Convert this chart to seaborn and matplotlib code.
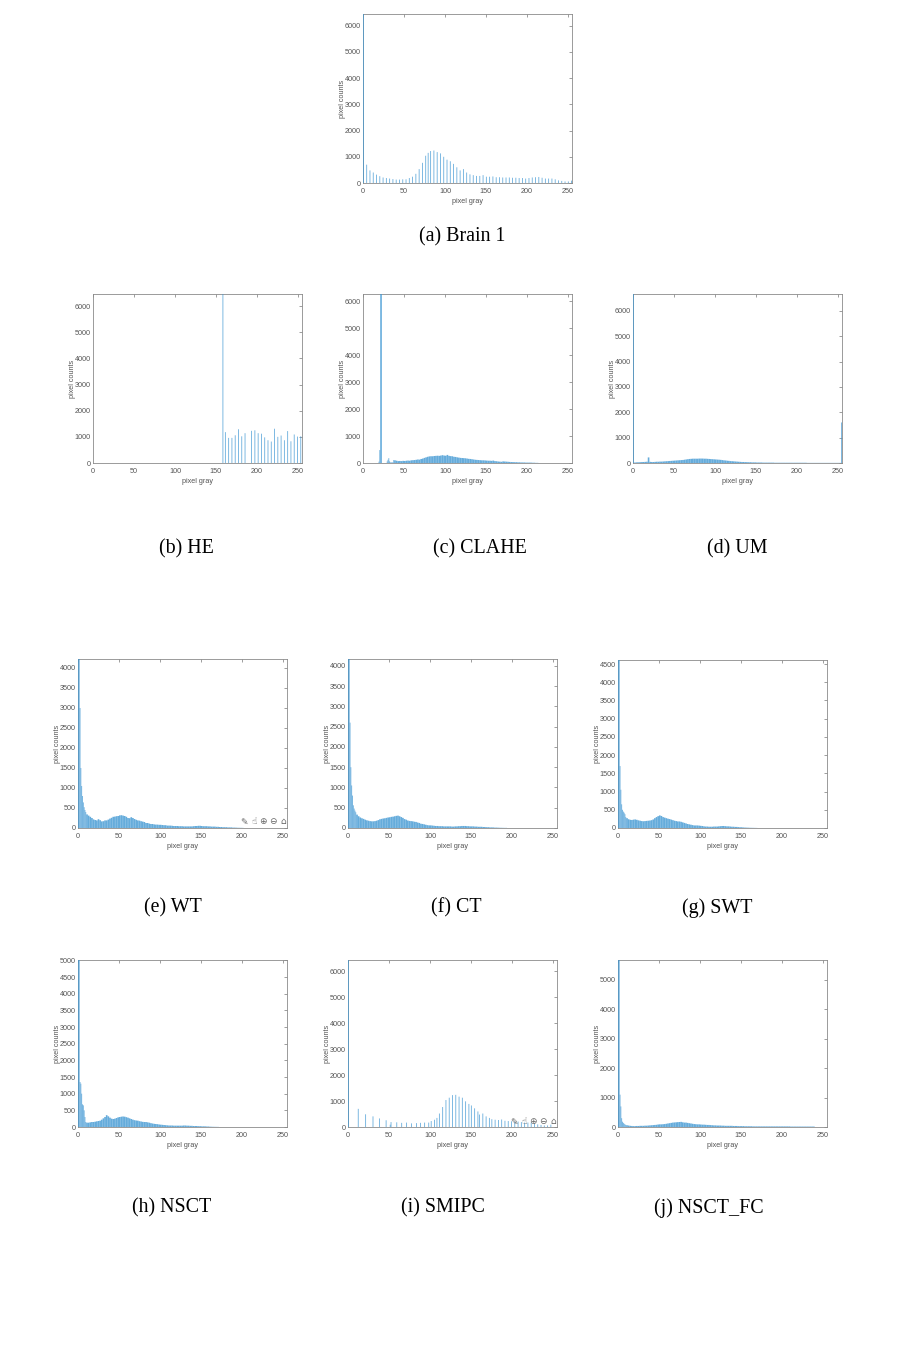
import numpy as np
import pandas as pd
import matplotlib
matplotlib.use("Agg")
import matplotlib.pyplot as plt
import seaborn as sns

sns.set_theme(style="white")
plt.rcParams['font.family'] = ['Liberation Sans', 'DejaVu Sans']

# gray levels (left edge of every bar)
dense_levels = list(range(0, 10)) + list(range(10, 256, 2))
c_levels = [0, 19, 20, 21, 23, 29, 30, 31, 32, 33, 37] + list(range(38, 256, 2))
d_levels = list(range(0, 10)) + list(range(10, 212, 2)) + [212, 254]

a_levels = [0, 4, 8, 12, 16, 20, 24, 28, 32, 36, 40, 44, 48, 52, 56, 60, 64, 68, 72, 76, 79, 82, 86, 90, 94, 98, 102,
            106, 110, 114, 118, 122, 126, 130, 134, 138, 142, 146, 150, 154, 158, 162, 166, 170, 174, 178, 182, 186,
            190, 194, 198, 202, 206, 210, 214, 218, 222, 226, 230, 234, 238, 242, 246, 250, 254]
a_counts = [6450, 700, 480, 400, 320, 260, 210, 190, 170, 150, 130, 130, 140, 140, 190, 240, 350, 530, 770, 1040, 1150,
            1220, 1240, 1180, 1130, 1000, 890, 830, 730, 600, 480, 530, 400, 330, 300, 270, 270, 300, 240, 240, 250,
            220, 220, 210, 210, 210, 200, 200, 190, 190, 170, 190, 210, 220, 230, 200, 170, 170, 170, 140, 100, 80,
            60, 60, 90]

b_levels = [158, 161, 165, 169, 173, 177, 181, 185, 193, 197, 201, 205, 209, 213, 217, 221, 225, 229, 233, 237, 241,
            245, 249, 253]
b_counts = [6500, 1180, 960, 960, 1060, 1290, 1020, 1140, 1230, 1250, 1140, 1120, 980, 870, 820, 1310, 1000, 1050, 870,
            1220, 830, 1090, 1010, 1020]

c_counts = [0, 50, 480, 6300, 0, 60, 120, 180, 60, 20, 110, 100, 85, 70, 75, 70, 80, 75, 85, 90, 85, 100, 105, 110,
            120, 130, 125, 150, 165, 190, 210, 230, 245, 250, 250, 260, 265, 270, 265, 275, 290, 275, 270, 300, 265,
            255, 250, 230, 225, 210, 200, 190, 185, 180, 175, 165, 155, 150, 140, 130, 120, 115, 110, 105, 100, 100,
            95, 90, 85, 85, 80, 90, 70, 65, 55, 50, 45, 60, 55, 50, 45, 40, 35, 35, 30, 30, 25, 25, 20, 20, 20, 15,
            15, 15, 15, 10, 10, 5, 5]

d_counts = [6670, 20, 20, 25, 30, 30, 30, 35, 35, 40, 40, 40, 45, 50, 220, 45, 40, 40, 45, 50, 50, 55, 55, 60, 65, 70,
            75, 80, 85, 90, 95, 100, 105, 110, 115, 120, 130, 140, 150, 160, 165, 170, 170, 170, 170, 175, 175, 175,
            170, 170, 165, 160, 155, 150, 145, 140, 135, 130, 125, 115, 105, 100, 90, 85, 75, 70, 65, 60, 55, 50, 45,
            40, 40, 35, 35, 30, 30, 25, 25, 25, 20, 20, 20, 20, 15, 15, 15, 15, 15, 15, 15, 10, 10, 10, 10, 10, 10,
            10, 10, 10, 10, 10, 10, 10, 10, 10, 10, 10, 10, 10, 10, 5, 1600]

e_counts = [4300, 4300, 3000, 1500, 1050, 800, 640, 520, 450, 400, 340, 310, 280, 250, 215, 200, 190, 220, 195, 165, 170,
            190, 190, 210, 235, 255, 280, 285, 295, 300, 315, 320, 310, 300, 280, 250, 245, 270, 250, 225, 205, 190,
            185, 170, 160, 150, 125, 125, 110, 100, 100, 90, 85, 85, 80, 80, 75, 70, 70, 60, 60, 60, 55, 50, 50, 50,
            45, 45, 45, 40, 40, 40, 40, 40, 40, 45, 50, 50, 55, 55, 50, 45, 45, 45, 40, 40, 35, 35, 35, 30, 30, 25,
            25, 20, 20, 20, 15, 15, 15, 10, 10, 8, 6, 5, 4, 3]

f_counts = [4170, 4170, 2600, 1500, 1050, 800, 560, 480, 430, 390, 330, 290, 260, 240, 225, 205, 190, 180, 170, 165, 165,
            170, 180, 195, 215, 225, 235, 240, 250, 260, 265, 275, 280, 290, 300, 305, 290, 270, 250, 220, 205, 185,
            175, 170, 165, 155, 150, 135, 125, 105, 100, 90, 80, 70, 65, 65, 60, 55, 50, 50, 45, 45, 45, 40, 40, 40,
            40, 40, 35, 35, 40, 40, 45, 45, 50, 50, 50, 45, 45, 40, 40, 40, 35, 35, 30, 30, 30, 25, 25, 20, 20, 15,
            15, 15, 10, 10, 8, 6, 5, 4, 3, 3]

g_counts = [4610, 4610, 1700, 1050, 650, 500, 450, 420, 380, 300, 270, 240, 225, 220, 230, 235, 225, 210, 200, 190, 185,
            190, 195, 200, 205, 215, 235, 270, 300, 325, 345, 330, 300, 285, 270, 255, 245, 230, 215, 200, 190, 180,
            180, 170, 155, 140, 125, 110, 100, 90, 80, 70, 70, 70, 65, 60, 55, 45, 40, 40, 35, 35, 35, 40, 40, 40, 45,
            50, 55, 55, 50, 45, 45, 40, 35, 35, 30, 30, 25, 20, 20, 15, 12, 10, 8, 6, 5, 4, 3, 2]

h_counts = [5010, 5010, 1350, 1300, 1000, 680, 650, 500, 300, 150, 130, 130, 140, 150, 150, 160, 170, 180, 190, 220, 260,
            300, 355, 320, 280, 250, 240, 250, 270, 290, 300, 310, 315, 310, 295, 280, 260, 240, 220, 205, 195, 190,
            175, 165, 155, 150, 150, 140, 130, 115, 105, 95, 90, 85, 75, 70, 65, 60, 55, 50, 45, 45, 45, 40, 40, 40,
            40, 40, 40, 45, 45, 40, 40, 35, 35, 30, 30, 30, 25, 25, 20, 20, 20, 15, 15, 10, 8, 6, 5, 4, 3]

i_levels = [0, 12, 21, 30, 38, 46, 51, 52, 59, 65, 71, 77, 83, 88, 93, 98, 101, 105, 108, 111, 115, 119, 123, 127, 131,
            135, 139, 143, 147, 150, 154, 158, 160, 164, 168, 172, 175, 179, 183, 187, 191, 195, 199, 203, 207, 211,
            215, 219, 223, 227, 231, 235, 239, 243, 247]
i_counts = [6440, 700, 490, 410, 330, 260, 90, 190, 180, 160, 170, 140, 150, 160, 170, 170, 230, 280, 350, 520, 770,
            1040, 1130, 1230, 1240, 1170, 1130, 990, 890, 830, 720, 600, 480, 520, 410, 350, 300, 280, 270, 290, 240,
            230, 220, 200, 210, 190, 170, 170, 170, 140, 100, 80, 60, 60, 90]

j_counts = [5680, 5680, 1100, 700, 300, 180, 140, 110, 90, 70, 60, 50, 40, 35, 30, 30, 35, 35, 40, 40, 40, 45, 45, 50,
            55, 60, 65, 70, 75, 85, 90, 90, 95, 100, 110, 120, 130, 140, 150, 155, 160, 165, 170, 175, 160, 150, 150,
            140, 130, 120, 110, 100, 95, 90, 90, 85, 80, 80, 75, 70, 70, 65, 60, 55, 55, 50, 50, 50, 45, 45, 40, 40,
            40, 40, 40, 35, 35, 35, 30, 30, 30, 30, 25, 25, 25, 25, 25, 20, 20, 20, 20, 20, 20, 20, 20, 20, 20, 20,
            20, 20, 20, 20, 20, 20, 20, 20, 20, 20, 20, 20, 15, 15, 15, 15, 15, 15, 15, 15, 15, 15, 15, 15, 15, 15, 15]

captions = ["(a) Brain 1", "(b) HE", "(c) CLAHE", "(d) UM", "(e) WT", "(f) CT", "(g) SWT", "(h) NSCT", "(i) SMIPC",
            "(j) NSCT_FC"]
x_ticks = [0, 50, 100, 150, 200, 250]
y_ticks_1000 = [0, 1000, 2000, 3000, 4000, 5000, 6000]
y_ticks_500 = [0, 500, 1000, 1500, 2000, 2500, 3000, 3500, 4000, 4500, 5000]

W, H = 902, 1360
BLUE = "#3f97d3"
unit_bins = list(range(0, 257))


def add_panel(left, right, top, bottom, levels, counts, ymax, yticks, caption, cap_x, cap_y, sparse=False):
    ax = fig.add_axes([left / W, 1 - bottom / H, (right - left) / W, (bottom - top) / H])
    lv = levels[:len(counts)]
    df = pd.DataFrame({"gray": lv, "count": counts})
    if sparse:
        bins = unit_bins
    else:
        bins = lv + [lv[-1] + 2]
    sns.histplot(data=df, x="gray", weights="count", bins=bins, color=BLUE, alpha=0.8,
                 edgecolor="none", linewidth=0, zorder=3, snap=False, ax=ax)
    ax.set_xlim(0, 255)
    ax.set_ylim(0, ymax)
    ax.set_xticks(x_ticks)
    ax.set_yticks([t for t in yticks if t <= ymax])
    ax.tick_params(direction="in", top=True, right=True, length=2, width=0.4, labelsize=5.2,
                   colors="#555555", pad=1.5)
    ax.tick_params(axis="x", pad=3.7)
    ax.set_xlabel("pixel gray", fontsize=5.2, color="#555555", labelpad=2)
    ax.set_ylabel("pixel counts", fontsize=5.2, color="#555555", labelpad=-1)
    for s in ax.spines.values():
        s.set_color("#8a8a8a")
        s.set_linewidth(0.6)
    fig.text(cap_x / W, 1 - (cap_y + 2) / H, caption, family="Liberation Serif", fontsize=14.4, color="black",
             ha="center", va="center")
    return ax


def add_tools(y, xs):
    for g, x in zip(["\u270e", "\u261d", "\u2295", "\u2296", "\u2302"], xs):
        fig.text(x / W, 1 - y / H, g, family="DejaVu Sans", fontsize=6.5, color="#666666", ha="center", va="center")


fig = plt.figure(figsize=(W / 100, H / 100), dpi=100)

add_panel(363, 572, 14, 183, a_levels, a_counts, 6450, y_ticks_1000, captions[0], 462, 235, sparse=True)
add_panel(93, 302, 294, 463, b_levels, b_counts, 6460, y_ticks_1000, captions[1], 186, 547, sparse=True)
add_panel(363, 572, 294, 463, c_levels, c_counts, 6270, y_ticks_1000, captions[2], 480, 547)
add_panel(633, 842, 294, 463, d_levels, d_counts, 6670, y_ticks_1000, captions[3], 737, 547)
add_panel(78, 287, 659, 828, dense_levels, e_counts, 4225, y_ticks_500, captions[4], 173, 906)
add_panel(348, 557, 659, 828, dense_levels, f_counts, 4170, y_ticks_500, captions[5], 456, 906)
add_panel(618, 827, 660, 828, dense_levels, g_counts, 4610, y_ticks_500, captions[6], 717, 906)
add_panel(78, 287, 960, 1127, dense_levels, h_counts, 5010, y_ticks_500, captions[7], 172, 1206)
add_panel(348, 557, 960, 1127, i_levels, i_counts, 6440, y_ticks_1000, captions[8], 443, 1206, sparse=True)
add_panel(618, 827, 960, 1127, dense_levels, j_counts, 5680, y_ticks_1000, captions[9], 709, 1206)

add_tools(822, [244, 254, 263, 273, 283])
add_tools(1122, [514, 524, 533, 543, 553])

fig.savefig("out.png", dpi=100)
